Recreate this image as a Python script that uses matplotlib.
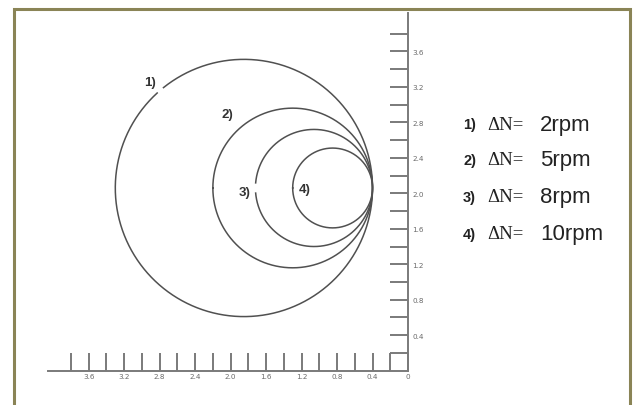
import numpy as np
import matplotlib
matplotlib.use("Agg")
import matplotlib.pyplot as plt
from matplotlib.patches import Rectangle
from matplotlib.ticker import FixedLocator, FixedFormatter

# ---- data ----
delta_n = [2, 5, 8, 10]                 # rpm
radii = [1.45, 0.90, 0.66, 0.45]        # circle radii (axis units)
tangent_x = 0.4                         # common tangent point x
center_y = 2.06                         # common centre height
curve_labels = ["1)", "2)", "3)", "4)"]
gaps = [(47.6, 51.3), None, (-5.0, 5.0), None]   # label gaps in arcs (deg)
x_tick_vals = [0, 0.4, 0.8, 1.2, 1.6, 2.0, 2.4, 2.8, 3.2, 3.6]
x_tick_text = ["0", "0.4", "0.8", "1.2", "1.6", "2.0", "2.4", "2.8", "3.2", "3.6"]
y_tick_vals = [0.4, 0.8, 1.2, 1.6, 2.0, 2.4, 2.8, 3.2, 3.6]
y_tick_text = ["0.4", "0.8", "1.2", "1.6", "2.0", "2.4", "2.8", "3.2", "3.6"]
minor_vals = [0.2, 0.6, 1.0, 1.4, 1.8, 2.2, 2.6, 3.0, 3.4, 3.8]

W, H, DPI = 633, 406, 100
fig = plt.figure(figsize=(W / DPI, H / DPI), dpi=DPI)
fig.patch.set_facecolor("white")

# pixel mapping: x=0 at px 408, y=0 at px 371.7 (from top), 88.7 px per unit
s = 88.7
x0_px, y0_px = 408.0, 371.7
ax = fig.add_axes([0, 0, 1, 1])
ax.set_xlim(x0_px / s, (x0_px - W) / s)          # inverted x axis
ax.set_ylim((y0_px - H) / s, y0_px / s)
ax.set_facecolor("none")

axis_col = "#7a7a7a"
for side in ["left", "top"]:
    ax.spines[side].set_visible(False)
ax.spines["bottom"].set_position(("data", 0))
ax.spines["right"].set_position(("data", 0))
ax.spines["bottom"].set_bounds(0, 4.06)
ax.spines["right"].set_bounds(0, 4.03)
for side in ["bottom", "right"]:
    ax.spines[side].set_color(axis_col)
    ax.spines[side].set_linewidth(1.4)

ax.yaxis.tick_right()
ax.xaxis.set_major_locator(FixedLocator(x_tick_vals))
ax.xaxis.set_major_formatter(FixedFormatter(x_tick_text))
ax.xaxis.set_minor_locator(FixedLocator(minor_vals))
ax.yaxis.set_major_locator(FixedLocator(y_tick_vals))
ax.yaxis.set_major_formatter(FixedFormatter(y_tick_text))
ax.yaxis.set_minor_locator(FixedLocator(minor_vals))
tick_len = 0.2 * s * 72 / DPI
ax.tick_params(axis="both", which="both", direction="in", length=tick_len,
               width=1.4, color=axis_col, labelsize=5.2, labelcolor="#6a6a6a")
ax.tick_params(axis="x", which="both", pad=2)
ax.tick_params(axis="y", which="both", pad=3)

# ---- circles ----
circle_col = "#505050"
for r, gap in zip(radii, gaps):
    cx = tangent_x + r
    if gap is None:
        th = np.linspace(0, 360, 721)
    else:
        th = np.linspace(gap[1], gap[0] + 360, 721)
    t = np.deg2rad(th)
    ax.plot(cx + r * np.cos(t), center_y + r * np.sin(t), color=circle_col, lw=1.1)

label_pos = [(2.91, 3.25), (2.04, 2.89), (1.84, 2.01), (1.16, 2.05)]
for lab, (lx, ly) in zip(curve_labels, label_pos):
    ax.text(lx, ly, lab, fontsize=9.5, fontweight="bold", color="#333333",
            ha="center", va="center", family="Liberation Sans")

# ---- legend text ----
rows_y = [125, 161, 198, 235]
for lab, dn, py in zip(curve_labels, delta_n, rows_y):
    fy = 1 - py / H
    fig.text(463 / W, fy, lab, fontsize=10.5, fontweight="bold", color="#222222",
             family="Liberation Sans", va="center", ha="left")
    fig.text(487 / W, fy, "ΔN=", fontsize=13.5, color="#222222",
             family="Liberation Serif", va="center", ha="left")
    fig.text(540 / W, fy, f"{dn}rpm", fontsize=16, color="#222222",
             family="Liberation Sans", va="center", ha="left")

# ---- outer frame ----
frame = Rectangle((14 / W, -0.05), (630 - 14) / W, 1.05 - 10 / H,
                  transform=fig.transFigure, fill=False,
                  edgecolor="#8a8456", linewidth=2.2)
fig.patches.append(frame)

fig.savefig("out.png", dpi=DPI, facecolor="white")
